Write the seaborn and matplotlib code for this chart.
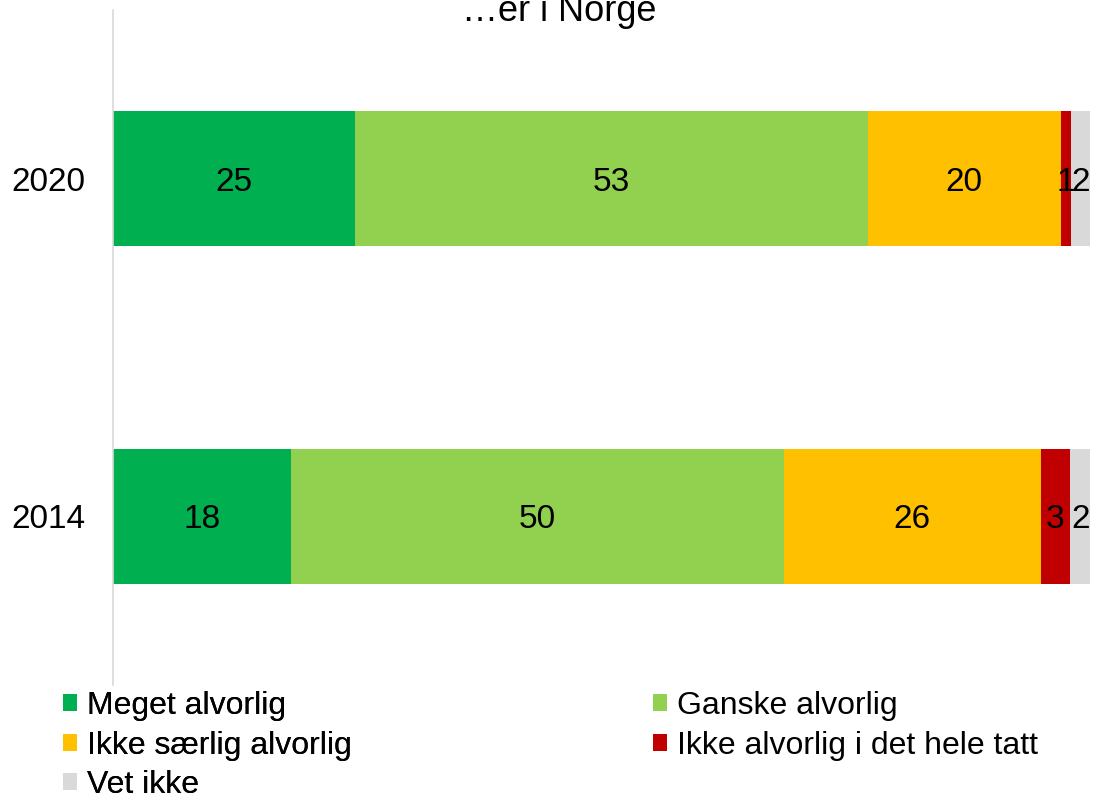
import pandas as pd
import seaborn as sns
import matplotlib.pyplot as plt
from matplotlib.patches import Patch

sns.set_theme(style="white")
plt.rcParams["font.family"] = ["Liberation Sans", "DejaVu Sans"]
plt.rcParams["text.color"] = "black"

# Data
years = ["2020", "2014"]
categories = ["Meget alvorlig", "Ganske alvorlig", "Ikke særlig alvorlig",
              "Ikke alvorlig i det hele tatt", "Vet ikke"]
values_2020 = [25, 53, 20, 1, 2]
values_2014 = [18, 50, 26, 3, 2]
colors = ["#00B050", "#92D050", "#FFC000", "#C00000", "#D9D9D9"]
title = "…er i Norge"

df = pd.DataFrame({"Year": years * len(categories),
                   "Category": [c for c in categories for _ in years],
                   "Value": [v for pair in zip(values_2020, values_2014) for v in pair]})
# bars are drawn as 100% stacked
df["Share"] = df["Value"] / df.groupby("Year")["Value"].transform("sum") * 100
df["Cum"] = df.groupby("Year", sort=False)["Share"].cumsum()

fig = plt.figure(figsize=(10.94, 7.96), dpi=100)
ax = fig.add_axes([113 / 1094, 1 - 685 / 796, (1090 - 113) / 1094, 675 / 796])

# Stacked bars: draw cumulative totals from the back to the front
for cat, col in reversed(list(zip(categories, colors))):
    sub = df[df["Category"] == cat]
    sns.barplot(data=sub, x="Cum", y="Year", order=years, color=col,
                width=0.4, saturation=1, ax=ax, linewidth=0)

# Value labels
for _, row in df.iterrows():
    ax.text(row["Cum"] - row["Share"] / 2, years.index(row["Year"]), str(row["Value"]),
            ha="center", va="center_baseline", fontsize=24, color="black")

ax.set_xlim(0, 100)
ax.set_ylim(1.5, -0.5)
ax.set_xlabel("")
ax.set_ylabel("")
ax.set_xticks([])
ax.tick_params(axis="y", labelsize=24, labelcolor="black", length=0, pad=20)
for s in ["top", "right", "bottom"]:
    ax.spines[s].set_visible(False)
ax.spines["left"].set_color("#D9D9D9")
ax.spines["left"].set_linewidth(1.2)

fig.text(559 / 1094, 1 - 21 / 796, title, ha="center", va="baseline", fontsize=26)

# Legend in two columns, filled row by row
handles = [Patch(facecolor=c, edgecolor="none") for c in colors]
leg_kw = dict(loc="upper left", frameon=False, fontsize=23, handlelength=0.45,
              handleheight=0.45, handletextpad=0.3, labelspacing=0.3,
              borderaxespad=0, borderpad=0, labelcolor="black")
leg1 = fig.legend(handles[0::2], categories[0::2], bbox_to_anchor=(63 / 1094, 1 - 691 / 796), **leg_kw)
fig.add_artist(leg1)
fig.legend(handles[1::2], categories[1::2], bbox_to_anchor=(653 / 1094, 1 - 691 / 796), **leg_kw)

fig.savefig("out.png", dpi=100)
